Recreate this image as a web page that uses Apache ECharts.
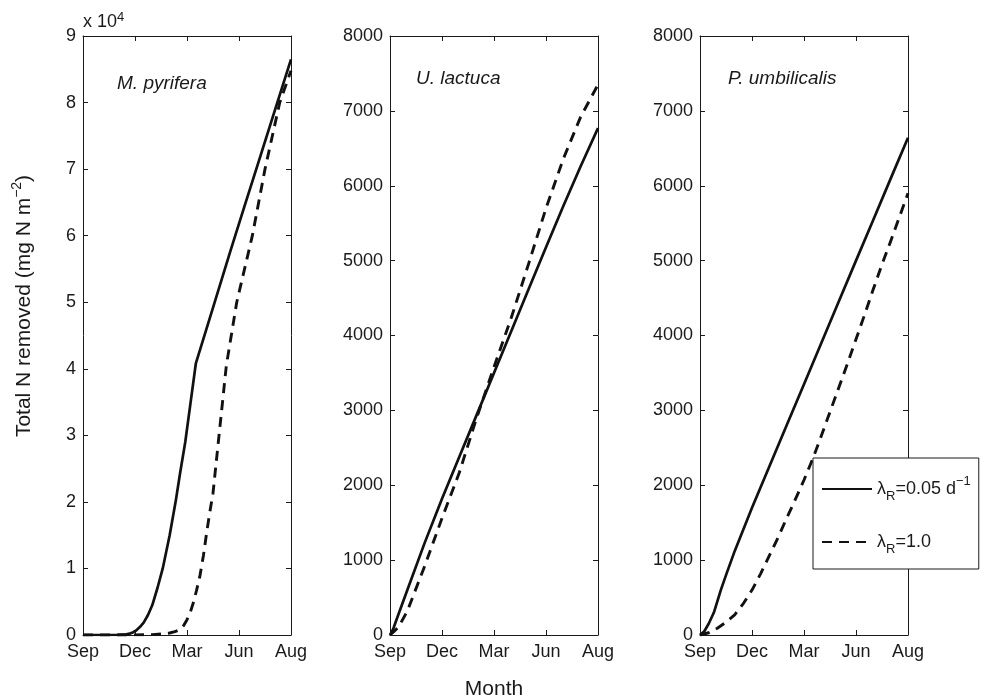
<!DOCTYPE html>
<html>
<head>
<meta charset="utf-8">
<script src="https://cdn.jsdelivr.net/npm/echarts@6/dist/echarts.min.js"></script>
<style>
html,body{margin:0;padding:0;background:#fff;}
#chart{width:981px;height:699px;}
</style>
</head>
<body>
<div id="chart"></div>
<script>
// ---- data (x = months since start of September) ----
const monthLabels = ['Sep', 'Dec', 'Mar', 'Jun', 'Aug'];
const panelTitles = ['M. pyrifera', 'U. lactuca', 'P. umbilicalis'];
const seriesNames = ['λR=0.05 d−1', 'λR=1.0'];

// M. pyrifera (mg N m^-2)
const pyrSolidX = [0, 1, 2, 2.5, 2.75, 2.9, 3.05, 3.2, 3.35, 3.5, 3.75, 4.0, 4.3, 4.6, 5.0, 5.36, 5.6, 5.9, 6.2, 6.51, 7.55, 8.48, 9.3, 10.12, 11.21, 12];
const pyrSolidY = [0, 0, 30, 100, 250, 420, 650, 1000, 1400, 1850, 3000, 4500, 7100, 10000, 15000, 20300, 24300, 29000, 34800, 40800, 49600, 57500, 64300, 71000, 80000, 86500];
const pyrDashX = [0, 2, 3, 4, 4.5, 5, 5.3, 5.6, 5.8, 6.0, 6.2, 6.36, 6.55, 6.74, 6.95, 7.13, 7.3, 7.5, 7.8, 8.27, 8.87, 9.77, 10.5, 11.35, 12];
const pyrDashY = [0, 0, 20, 60, 150, 300, 500, 800, 1400, 2300, 3500, 4800, 6700, 8800, 12000, 15300, 18200, 21300, 28800, 40500, 50000, 60000, 70000, 80000, 84800];

// U. lactuca
const ulvSolidX = [0, 0.2, 0.4, 1, 2, 3, 4, 5, 6, 7, 8, 9, 10, 11, 12];
const ulvSolidY = [0, 90, 220, 600, 1230, 1820, 2380, 2940, 3500, 4060, 4620, 5180, 5730, 6260, 6770];
const ulvDashX = [0, 0.2, 0.5, 1, 2, 3, 4, 5, 6, 7, 8, 9, 10, 11, 12];
const ulvDashY = [0, 40, 110, 320, 920, 1560, 2170, 2900, 3580, 4240, 4960, 5700, 6360, 6920, 7350];

// P. umbilicalis
const porSolidX = [0, 0.25, 0.5, 0.8, 1.0, 1.2, 1.5, 2, 3, 4, 5, 6, 7, 8, 9, 10, 11, 12];
const porSolidY = [0, 50, 150, 300, 450, 600, 800, 1120, 1700, 2250, 2800, 3350, 3900, 4450, 5000, 5545, 6095, 6640];
const porDashX = [0, 0.5, 1, 1.5, 2, 2.5, 3, 3.5, 4, 4.5, 5, 5.5, 6, 6.5, 7, 7.5, 8, 8.5, 9, 9.5, 10, 10.5, 11, 11.5, 12];
const porDashY = [0, 30, 90, 170, 270, 420, 600, 820, 1060, 1300, 1560, 1810, 2070, 2350, 2660, 2980, 3300, 3620, 3950, 4280, 4620, 4950, 5260, 5580, 5900];

// axis ranges
const yMax = [90000, 8000, 8000];
const yInterval = [10000, 1000, 1000];
const xMax = 12, xInterval = 3;

// ---- build ----
const zip = (xs, ys) => xs.map((x, i) => [x, ys[i]]);
const curves = [
  [zip(pyrSolidX, pyrSolidY), zip(pyrDashX, pyrDashY)],
  [zip(ulvSolidX, ulvSolidY), zip(ulvDashX, ulvDashY)],
  [zip(porSolidX, porSolidY), zip(porDashX, porDashY)]
];

const INK = '#1a1a1a';
const FONT = '"Liberation Sans", Arial, Helvetica, sans-serif';
const gridLefts = [83, 390, 700];

const grids = [], xAxes = [], yAxes = [], series = [];
for (let p = 0; p < 3; p++) {
  grids.push({ left: gridLefts[p], top: 36, width: 208, height: 599, show: false });
  const axLine = { show: true, onZero: false, lineStyle: { color: INK, width: 1 } };
  const tick = { show: true, inside: true, length: 5, lineStyle: { color: INK, width: 1 } };
  xAxes.push({
    type: 'value', gridIndex: p, position: 'bottom', min: 0, max: xMax, interval: xInterval,
    axisLine: axLine, axisTick: tick, splitLine: { show: false },
    axisLabel: { color: INK, fontSize: 18, fontFamily: FONT, margin: 8,
      formatter: v => monthLabels[Math.round(v / xInterval)] }
  });
  xAxes.push({
    type: 'value', gridIndex: p, position: 'top', min: 0, max: xMax, interval: xInterval,
    axisLine: axLine, axisTick: tick, splitLine: { show: false }, axisLabel: { show: false }
  });
  yAxes.push({
    type: 'value', gridIndex: p, position: 'left', min: 0, max: yMax[p], interval: yInterval[p],
    axisLine: axLine, axisTick: tick, splitLine: { show: false },
    axisLabel: { color: INK, fontSize: 18, fontFamily: FONT, margin: 7,
      formatter: v => p === 0 ? String(v / 10000) : String(v) }
  });
  yAxes.push({
    type: 'value', gridIndex: p, position: 'right', min: 0, max: yMax[p], interval: yInterval[p],
    axisLine: axLine, axisTick: tick, splitLine: { show: false }, axisLabel: { show: false }
  });
  for (let s = 0; s < 2; s++) {
    series.push({
      type: 'line', name: seriesNames[s], xAxisIndex: p * 2, yAxisIndex: p * 2,
      data: curves[p][s], symbol: 'none', smooth: false,
      lineStyle: { color: '#111', width: s === 0 ? 2.7 : 2.9, type: s === 0 ? 'solid' : [10, 7], join: 'round' },
      itemStyle: { color: '#111' },
      silent: true, animation: false, z: 2
    });
  }
}

const rich = {
  n: { fontSize: 18, fontFamily: FONT, color: INK, lineHeight: 28, verticalAlign: 'middle' },
  b: { fontSize: 13, fontFamily: FONT, color: INK, lineHeight: 12, verticalAlign: 'bottom' },
  t: { fontSize: 13, fontFamily: FONT, color: INK, lineHeight: 16, verticalAlign: 'top' }
};

const option = {
  backgroundColor: '#fff',
  animation: false,
  grid: grids,
  xAxis: xAxes,
  yAxis: yAxes,
  series: series,
  legend: {
    data: seriesNames,
    orient: 'vertical',
    left: 813, top: 458,
    padding: [17, 8, 13, 8],
    itemGap: 30,
    itemWidth: 50, itemHeight: 14,
    backgroundColor: '#fff',
    borderColor: INK, borderWidth: 1,
    borderRadius: 0,
    selectedMode: false,
    itemStyle: { color: 'rgba(0,0,0,0)', borderColor: 'rgba(0,0,0,0)', borderWidth: 0, opacity: 0 },
    textStyle: { rich: rich },
    formatter: name => name === seriesNames[0]
      ? '{n|λ}{b|R}{n|=0.05 d}{t|−1}'
      : '{n|λ}{b|R}{n|=1.0}',
    z: 10
  },
  graphic: [
    { type: 'text', x: 24, y: 306, rotation: Math.PI / 2, z: 10,
      style: {
        text: '{m|Total N removed (mg N m}{s|−2}{m|)}',
        rich: {
          m: { fontSize: 21, fontFamily: FONT, fill: INK, color: INK, lineHeight: 28, verticalAlign: 'middle' },
          s: { fontSize: 14, fontFamily: FONT, fill: INK, color: INK, lineHeight: 14, verticalAlign: 'top' }
        },
        align: 'center', verticalAlign: 'middle'
      } },
    { type: 'text', x: 494, y: 689, z: 10,
      style: { text: 'Month', fontSize: 21, fontFamily: FONT, fill: INK, align: 'center', verticalAlign: 'middle' } },
    { type: 'text', x: 83, y: 22, z: 10,
      style: {
        text: '{m|x 10}{s|4}',
        rich: {
          m: { fontSize: 18, fontFamily: FONT, fill: INK, color: INK, lineHeight: 22, verticalAlign: 'middle' },
          s: { fontSize: 13, fontFamily: FONT, fill: INK, color: INK, lineHeight: 12, verticalAlign: 'top' }
        },
        align: 'left', verticalAlign: 'middle'
      } },
    { type: 'text', x: 117, y: 84, z: 10,
      style: { text: panelTitles[0], fontSize: 19, fontStyle: 'italic', fontFamily: FONT, fill: INK, align: 'left', verticalAlign: 'middle' } },
    { type: 'text', x: 416, y: 79, z: 10,
      style: { text: panelTitles[1], fontSize: 19, fontStyle: 'italic', fontFamily: FONT, fill: INK, align: 'left', verticalAlign: 'middle' } },
    { type: 'text', x: 728, y: 78.5, z: 10,
      style: { text: panelTitles[2], fontSize: 19, fontStyle: 'italic', fontFamily: FONT, fill: INK, align: 'left', verticalAlign: 'middle' } }
  ]
};

const chart = echarts.init(document.getElementById('chart'), null, { renderer: 'canvas' });
chart.setOption(option);
</script>
</body>
</html>
